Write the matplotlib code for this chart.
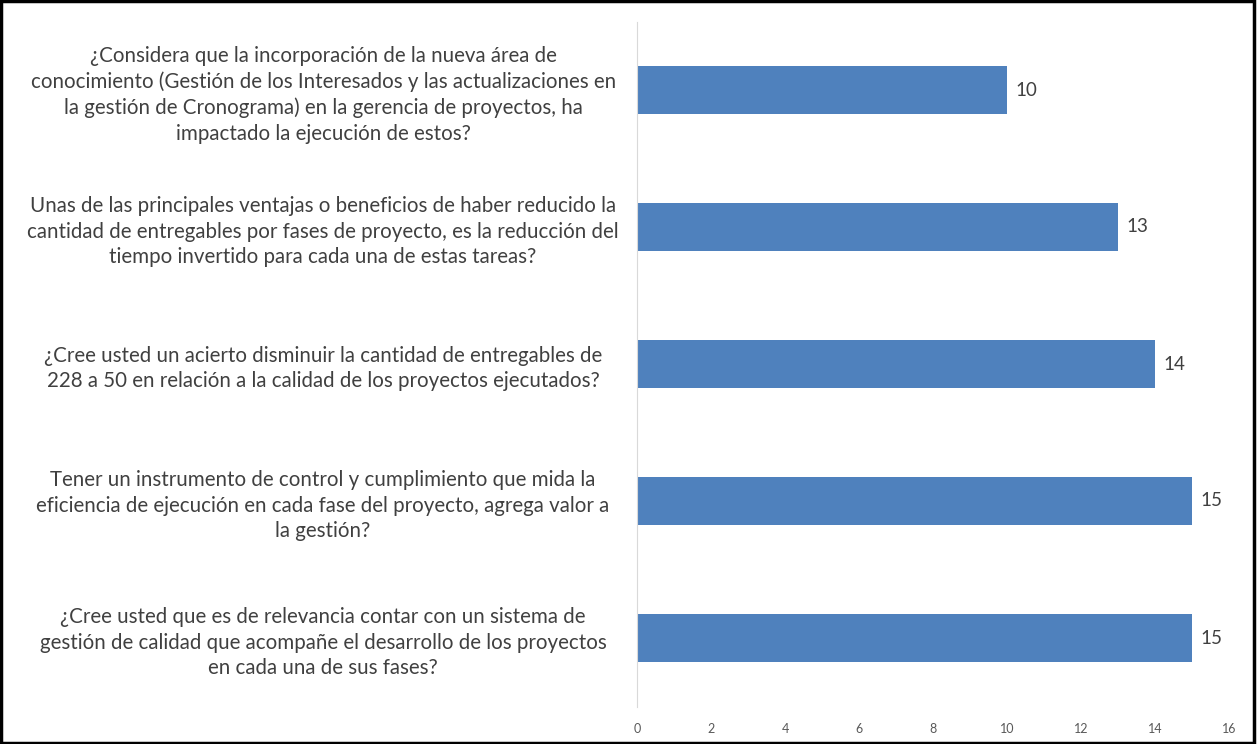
import matplotlib
matplotlib.use('Agg')
import matplotlib.pyplot as plt
from matplotlib.patches import Rectangle

# Encuesta: respuestas afirmativas por pregunta
preguntas = [
    "¿Considera que la incorporación de la nueva área de\nconocimiento (Gestión de los Interesados y las actualizaciones en\nla gestión de Cronograma) en la gerencia de proyectos, ha\nimpactado la ejecución de estos?",
    "Unas de las principales ventajas o beneficios de haber reducido la\ncantidad de entregables por fases de proyecto, es la reducción del\ntiempo invertido para cada una de estas tareas?",
    "¿Cree usted un acierto disminuir la cantidad de entregables de\n228 a 50 en relación a la calidad de los proyectos ejecutados?",
    "Tener un instrumento de control y cumplimiento que mida la\neficiencia de ejecución en cada fase del proyecto, agrega valor a\nla gestión?",
    "¿Cree usted que es de relevancia contar con un sistema de\ngestión de calidad que acompañe el desarrollo de los proyectos\nen cada una de sus fases?",
]
respuestas = [10, 13, 14, 15, 15]
x_ticks = [0, 2, 4, 6, 8, 10, 12, 14, 16]

plt.rcParams['font.family'] = ['Lato', 'DejaVu Sans']

fig = plt.figure(figsize=(12.57, 7.44), dpi=100)
ax = fig.add_axes([637 / 1257, 1 - 706.5 / 744, 592 / 1257, 685 / 744])

pos = list(range(len(preguntas)))
bars = ax.barh(pos, respuestas, height=0.35, color='#4f81bd')
ax.set_ylim(len(preguntas) - 0.5, -0.5)
ax.set_xlim(0, 16)

for b, v in zip(bars, respuestas):
    ax.text(b.get_width() + 0.24, b.get_y() + b.get_height() / 2, str(v),
            va='center', ha='left', fontsize=13.5, color='#404040')

ax.set_yticks(pos)
ax.set_yticklabels(preguntas, ha='center', multialignment='center',
                   fontsize=14.8, color='#404040', linespacing=1.34)
ax.tick_params(axis='y', length=0, pad=226)
ax.set_xticks(x_ticks)
ax.tick_params(axis='x', length=0, labelsize=9, labelcolor='#595959', pad=12)

for s in ['top', 'right', 'bottom']:
    ax.spines[s].set_visible(False)
ax.spines['left'].set_color('#d9d9d9')

# marco negro alrededor de la figura
fig.patches.append(Rectangle((0.001, 0.002), 0.997, 0.996, transform=fig.transFigure,
                             fill=False, edgecolor='black', linewidth=2.5))

fig.savefig('out.png', dpi=100)
